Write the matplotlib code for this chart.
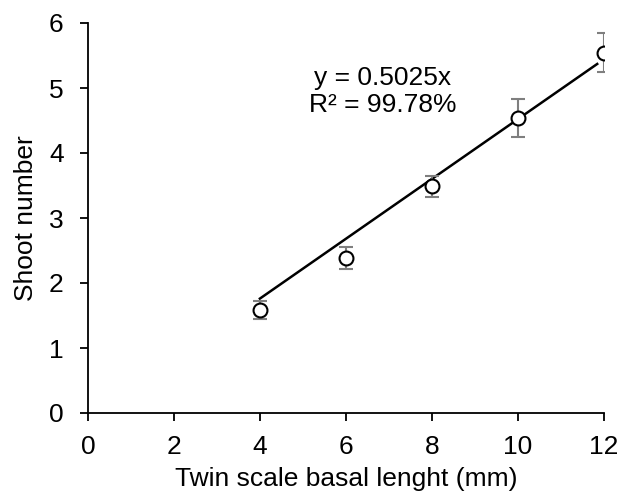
import numpy as np
import matplotlib.pyplot as plt

plt.rcParams['font.family'] = ['Liberation Sans', 'DejaVu Sans']

# data
length = [4, 6, 8, 10, 12]
shoots = [1.58, 2.38, 3.49, 4.54, 5.54]
err = [0.14, 0.17, 0.16, 0.29, 0.30]

# trend line as drawn
line_x = [4, 11.85]
line_y = [1.76, 5.37]

xticks = [0, 2, 4, 6, 8, 10, 12]
yticks = [0, 1, 2, 3, 4, 5, 6]

fig = plt.figure(figsize=(6.22, 5), dpi=100)
ax = fig.add_axes([0.1415, 0.174, 0.829, 0.78])

ax.plot(line_x, line_y, color='black', lw=1.8, zorder=2)
ax.errorbar(length, shoots, yerr=err, fmt='none', ecolor='#7f7f7f',
            elinewidth=1.5, capsize=5, capthick=1.5, zorder=3)
ax.plot(length, shoots, 'o', ms=10, mfc='white', mec='black', mew=1.5, zorder=4)

ax.text(6.85, 4.94, 'y = 0.5025x\nR² = 99.78%', ha='center', va='center',
        fontsize=19, linespacing=1.15)

ax.set_xlim(0, 12)
ax.set_ylim(0, 6)
ax.set_xticks(xticks)
ax.set_yticks(yticks)
ax.spines['top'].set_visible(False)
ax.spines['right'].set_visible(False)
ax.spines['left'].set_linewidth(1.3)
ax.spines['bottom'].set_linewidth(1.3)
ax.tick_params(direction='out', length=5.5, width=1.3, labelsize=19)
ax.tick_params(axis='y', pad=12)
ax.tick_params(axis='x', pad=10)
ax.set_xlabel('Twin scale basal lenght (mm)', fontsize=19, labelpad=6)
ax.set_ylabel('Shoot number', fontsize=19, labelpad=8)

fig.savefig('out.png', dpi=100)
